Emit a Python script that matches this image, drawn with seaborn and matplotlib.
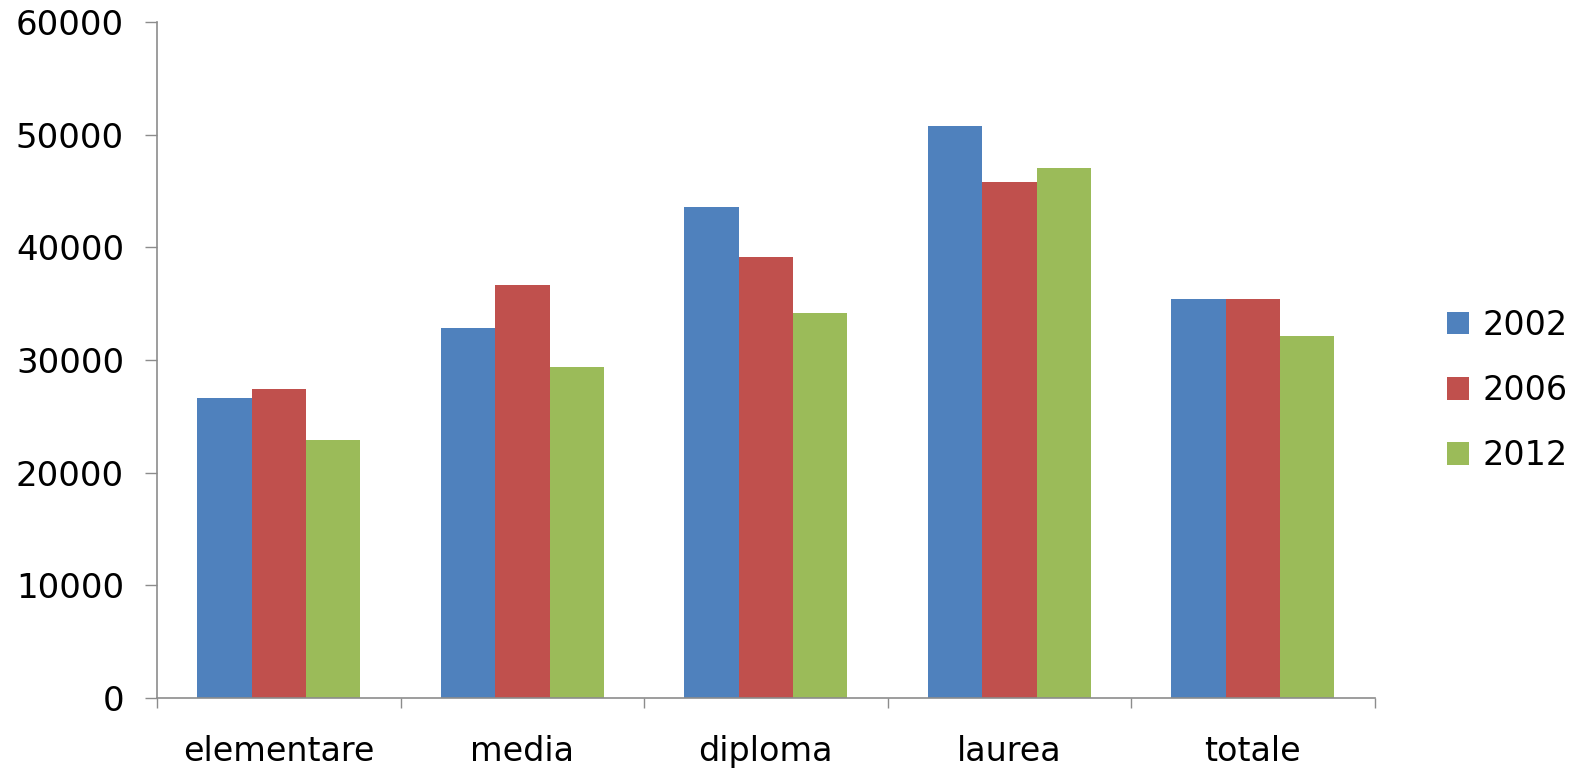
import matplotlib
matplotlib.use("Agg")
import matplotlib.pyplot as plt
import seaborn as sns
import pandas as pd
import numpy as np

categories = ["elementare", "media", "diploma", "laurea", "totale"]
years = ["2002", "2006", "2012"]
values_2002 = [26640, 32830, 43570, 50760, 35400]
values_2006 = [27440, 36650, 39130, 45790, 35400]
values_2012 = [22880, 29370, 34160, 47040, 32120]
colors = ["#4F81BD", "#C0504D", "#9BBB59"]

df = pd.DataFrame({
    "categoria": categories * 3,
    "anno": [years[0]] * 5 + [years[1]] * 5 + [years[2]] * 5,
    "valore": values_2002 + values_2006 + values_2012,
})

sns.set_theme(style="white")
plt.rcParams["font.family"] = ["DejaVu Sans"]
plt.rcParams["text.color"] = "black"

fig = plt.figure(figsize=(15.69, 7.72), dpi=100)
ax = fig.add_axes([0.1001, 0.0959, 0.776, 0.8756])

sns.barplot(data=df, x="categoria", y="valore", hue="anno",
            palette=colors, width=0.67, saturation=1, ax=ax,
            edgecolor="none", linewidth=0, errorbar=None)

ax.set_xlim(-0.5, len(categories) - 0.5)
ax.set_ylim(0, 60000)
ax.set_yticks(np.arange(0, 60001, 10000))
ax.set_yticklabels([str(v) for v in range(0, 60001, 10000)], fontsize=24.5, color="black")
ax.set_xlabel("")
ax.set_ylabel("")

# category separators as minor ticks, labels on hidden major ticks
ax.set_xticks(np.arange(-0.5, len(categories), 1.0), minor=True)
ax.tick_params(axis="x", which="major", bottom=True, length=0, pad=27,
               labelsize=24, labelcolor="black")
ax.tick_params(axis="x", which="minor", bottom=True, length=7.5, width=1.0,
               color="#8c8c8c", direction="out")
ax.tick_params(axis="y", left=True, length=8.6, width=1.0, color="#8c8c8c",
               direction="out", pad=15.2)

for side in ["top", "right"]:
    ax.spines[side].set_visible(False)
for side in ["left", "bottom"]:
    ax.spines[side].set_color("#8c8c8c")
    ax.spines[side].set_linewidth(1.2)

handles, labels = ax.get_legend_handles_labels()
leg = ax.legend(handles, labels, frameon=False, fontsize=24,
                loc="center left", bbox_to_anchor=(0.9115, 0.494),
                bbox_transform=fig.transFigure,
                handlelength=0.67, handleheight=0.67, handletextpad=0.4,
                labelspacing=0.97, borderpad=0)
for t in leg.get_texts():
    t.set_color("black")

fig.savefig("out.png", dpi=100, facecolor="white")
